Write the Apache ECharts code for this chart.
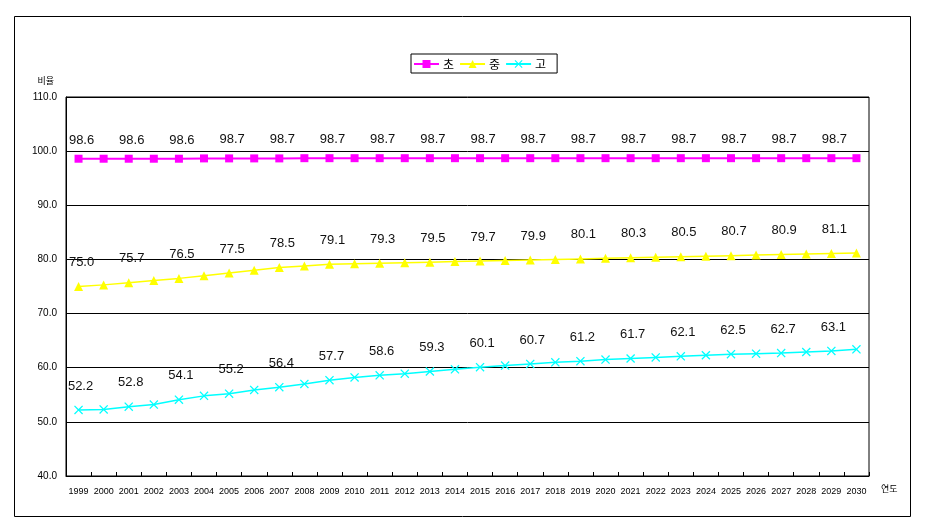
<!DOCTYPE html>
<html>
<head>
<meta charset="utf-8">
<script src="https://cdn.jsdelivr.net/npm/echarts@6/dist/echarts.min.js"></script>
<style>
html,body{margin:0;padding:0;background:#fff;}
#c{width:926px;height:529px;}
</style>
</head>
<body>
<div id="c"></div>
<script>
const years = ['1999','2000','2001','2002','2003','2004','2005','2006','2007','2008','2009','2010','2011','2012','2013','2014','2015','2016','2017','2018','2019','2020','2021','2022','2023','2024','2025','2026','2027','2028','2029','2030'];
const seriesNames = ['초','중','고'];
const elementary = [98.6,98.6,98.6,98.6,98.6,98.66,98.66,98.66,98.66,98.7,98.7,98.7,98.7,98.7,98.7,98.7,98.7,98.7,98.7,98.7,98.7,98.7,98.7,98.7,98.7,98.7,98.7,98.7,98.7,98.7,98.7,98.7];
const middle = [75.0,75.3,75.7,76.1,76.5,77.0,77.5,78.0,78.5,78.8,79.1,79.2,79.3,79.4,79.5,79.6,79.7,79.8,79.9,80.0,80.1,80.2,80.3,80.4,80.5,80.6,80.7,80.8,80.9,81.0,81.1,81.2];
const high = [52.2,52.3,52.8,53.2,54.1,54.8,55.2,55.9,56.4,57.0,57.7,58.2,58.6,58.9,59.3,59.7,60.1,60.4,60.7,61.0,61.2,61.5,61.7,61.9,62.1,62.3,62.5,62.6,62.7,62.9,63.1,63.4];
const yTicks = {min:40, max:110, interval:10};

const chart = echarts.init(document.getElementById('c'));
const labelFmt = p => (p.dataIndex % 2 === 0 ? Number(p.value).toFixed(1) : '');
const baseFont = '"Liberation Sans", Arial, sans-serif';
const krFont = '"Noto Sans CJK KR", sans-serif';
const xSym = 'path://M0,1 L1,0 L5,4 L9,0 L10,1 L6,5 L10,9 L9,10 L5,6 L1,10 L0,9 L4,5 Z';

chart.setOption({
  animation:false,
  backgroundColor:'#fff',
  graphic:[{type:'rect', shape:{x:14.5,y:16.5,width:896,height:500}, style:{fill:'none', stroke:'#000', lineWidth:1}, silent:true}],
  legend:{
    left:411, top:54, itemWidth:25, itemHeight:10, itemGap:5,
    padding:[4,11,3,2], borderColor:'#000', borderWidth:1,
    textStyle:{fontFamily:krFont, fontSize:12, color:'#000', padding:[0,0,0,-1]},
    data:seriesNames
  },
  grid:{left:66, top:97, right:57, bottom:53, show:true, borderColor:'#000', borderWidth:1},
  xAxis:{
    type:'category', data:years, boundaryGap:true,
    name:'연도', nameLocation:'end', nameGap:12,
    nameTextStyle:{fontFamily:krFont, fontSize:9, color:'#000', verticalAlign:'top', padding:[8,0,0,0]},
    axisLine:{lineStyle:{color:'#000', width:1}},
    axisTick:{show:true, inside:true, length:4, lineStyle:{color:'#000'}},
    axisLabel:{interval:0, fontSize:9, fontFamily:baseFont, color:'#000', margin:11, letterSpacing:-0.5}
  },
  yAxis:{
    type:'value', min:yTicks.min, max:yTicks.max, interval:yTicks.interval,
    name:'비율', nameLocation:'end', nameGap:12,
    nameTextStyle:{fontFamily:krFont, fontSize:9, color:'#000', align:'right', padding:[0,12,0,0]},
    axisLine:{show:true, lineStyle:{color:'#000', width:1}},
    axisTick:{show:false},
    axisLabel:{fontSize:10, fontFamily:baseFont, color:'#000', margin:9, formatter:v=>v.toFixed(1), letterSpacing:-0.5},
    splitLine:{show:true, lineStyle:{color:'#000', width:1}}
  },
  series:[
    {name:'초', type:'line', data:elementary, symbol:'rect', symbolSize:8,
     lineStyle:{color:'#ff00ff', width:2}, itemStyle:{color:'#ff00ff'},
     label:{show:true, position:'top', distance:8, offset:[3,0], formatter:labelFmt, fontSize:13, fontFamily:baseFont, color:'#111'}},
    {name:'중', type:'line', data:middle, symbol:'triangle', symbolSize:9,
     lineStyle:{color:'#ffff00', width:1.5}, itemStyle:{color:'#ffff00'},
     label:{show:true, position:'top', distance:13, offset:[3,0], formatter:labelFmt, fontSize:13, fontFamily:baseFont, color:'#111'}},
    {name:'고', type:'line', data:high, symbol:xSym, symbolSize:9,
     lineStyle:{color:'#00ffff', width:1.5}, itemStyle:{color:'#00ffff'},
     label:{show:true, position:'top', distance:13, offset:[2,0], formatter:labelFmt, fontSize:13, fontFamily:baseFont, color:'#111'}}
  ]
});
</script>
</body>
</html>
